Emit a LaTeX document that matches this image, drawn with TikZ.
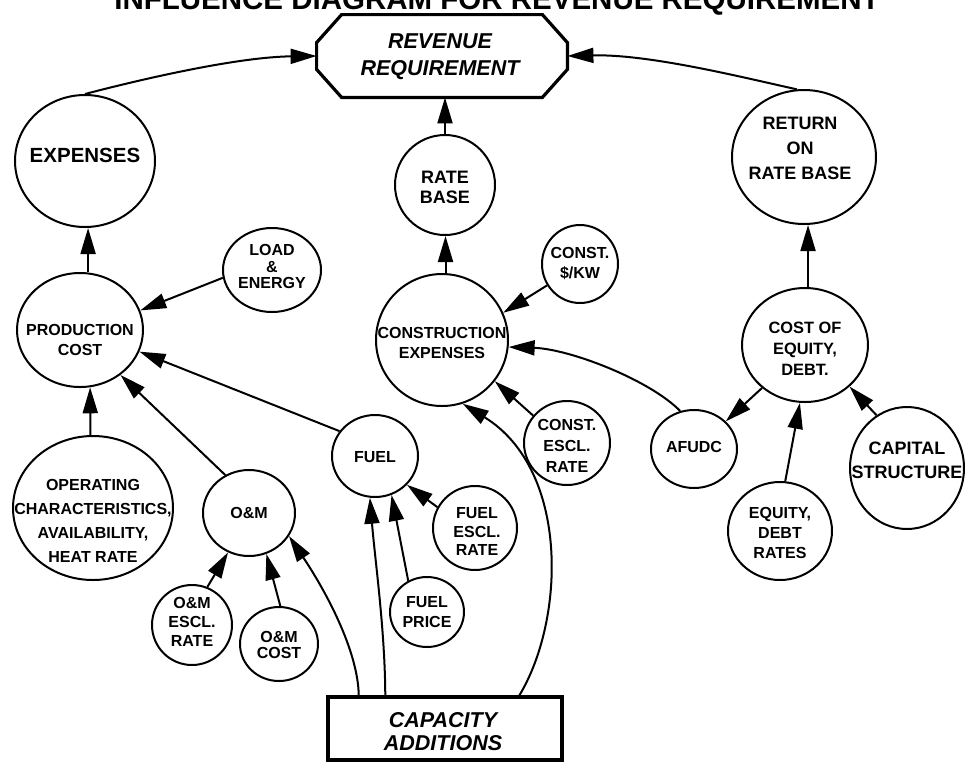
\documentclass[tikz,border=0pt]{standalone}
\usepackage{fontspec}
\setmainfont{Liberation Sans}
\usetikzlibrary{arrows.meta,shapes.geometric}
\begin{document}
\begin{tikzpicture}[x=0.5pt,y=-0.5pt,
  bub/.style 2 args={ellipse,draw,line width=1pt,inner sep=0pt,minimum width=#1pt,minimum height=#2pt},
  fsz/.style 2 args={font=\bfseries\fontsize{#1}{#2}\selectfont},
  txt/.style={align=center,inner sep=0pt,fsz={8}{10}},
  itxt/.style={align=center,inner sep=0pt,font=\bfseries\itshape\fontsize{10.75}{#1}\selectfont},
  arr/.style={line width=1pt,-{Triangle[length=13pt,width=7.5pt]}},
  heavy/.style={line width=1.6pt},
]
\useasboundingbox (0,0) rectangle (965,762);
\fill[white] (0,0) rectangle (965,762);
\clip (0,0) rectangle (965,762);

% title (cut off at the top)
\node[anchor=base,inner sep=0pt,fsz={14.75}{16}] (title) at (497,9) {INFLUENCE DIAGRAM FOR REVENUE REQUIREMENT};

% top octagon
\node[minimum width=125pt,minimum height=41pt,inner sep=0pt] (rev) at (442,56) {};
\draw[heavy] ([xshift=12.5pt]rev.north west) -- ([xshift=-12.5pt]rev.north east)
  -- ([yshift=-14pt]rev.north east) -- ([yshift=14pt]rev.south east)
  -- ([xshift=-12.5pt]rev.south east) -- ([xshift=12.5pt]rev.south west)
  -- ([yshift=14pt]rev.south west) -- ([yshift=-14pt]rev.north west) -- cycle;
\node[itxt=13.5] (revT) at (440,56.5) {REVENUE\\REQUIREMENT};

% bottom box
\node[draw,heavy,minimum width=117pt,minimum height=31.5pt,inner sep=0pt] (cap) at (445,728.5) {};
\node[itxt=11.5] (capT) at (443,731.5) {CAPACITY\\ADDITIONS};

% circles
\node[bub={70}{66}] (exp) at (85,161) {};
\node[txt,fsz={10.25}{12}] (expT) at (85,155) {EXPENSES};
\node[bub={49}{42}] (load) at (272,270) {};
\node[txt,fsz={8}{8.25}] (loadT) at (272,266.5) {LOAD\\\&\\ENERGY};
\node[bub={63}{57}] (prod) at (80,330) {};
\node[txt] (prodT) at (80,340) {PRODUCTION\\COST};
\node[bub={80}{72}] (oper) at (93,508) {};
\node[txt,fsz={8}{11.9}] (operT) at (93,521) {OPERATING\\CHARACTERISTICS,\\AVAILABILITY,\\HEAT RATE};
\node[bub={46}{43}] (om) at (249,513) {};
\node[txt] (omT) at (249,513) {O\&M};
\node[bub={40}{40}] (omesc) at (192,625) {};
\node[txt,fsz={8}{9.5}] (omescT) at (192,622) {O\&M\\ESCL.\\RATE};
\node[bub={39}{37}] (omcost) at (279,644) {};
\node[txt,fsz={8}{8.2}] (omcostT) at (279,645) {O\&M\\COST};
\node[bub={43}{41}] (fuel) at (375,456) {};
\node[txt] (fuelT) at (375,457) {FUEL};
\node[bub={42}{42}] (fuelesc) at (475,528) {};
\node[txt,fsz={8}{9.25}] (fuelescT) at (477,531.5) {FUEL\\ESCL.\\RATE};
\node[bub={37}{35}] (fuelprice) at (427,612) {};
\node[txt] (fuelpriceT) at (427,612) {FUEL\\PRICE};
\node[bub={50}{50}] (rate) at (445,185) {};
\node[txt,fsz={9}{10}] (rateT) at (445,187) {RATE\\BASE};
\node[bub={66}{66}] (constr) at (442,340) {};
\node[txt] (constrT) at (442,343) {CONSTRUCTION\\EXPENSES};
\node[bub={38}{39}] (constkw) at (580,264) {};
\node[txt] (constkwT) at (580,263) {CONST.\\\$/KW};
\node[bub={43}{42}] (constesc) at (567,443) {};
\node[txt,fsz={8}{10.5}] (constescT) at (567,446) {CONST.\\ESCL.\\RATE};
\node[bub={43}{39}] (afudc) at (694,449) {};
\node[txt] (afudcT) at (694,447) {AFUDC};
\node[bub={72}{67}] (ret) at (804,157) {};
\node[txt,fsz={9}{12.5}] (retT) at (800,148) {RETURN\\ON\\RATE BASE};
\node[bub={63}{57}] (costeq) at (805,345) {};
\node[txt,fsz={8.2}{10.5}] (costeqT) at (805,349) {COST OF\\EQUITY,\\DEBT.};
\node[bub={52}{49}] (eqrates) at (780,531) {};
\node[txt] (eqratesT) at (780,533) {EQUITY,\\DEBT\\RATES};
\node[bub={57}{61}] (capstr) at (907,468) {};
\node[txt,fsz={9}{12}] (capstrT) at (907,460) {CAPITAL\\STRUCTURE};

% connectors
\draw[arr] (exp.north) .. controls (150,77) and (240,57) .. (rev.west);
\draw[arr] (ret.96) .. controls (745,78) and (650,54) .. (rev.east);
\draw[arr] (rate.north) -- (rate.north |- rev.south);
\draw[arr] (prod.82) -- (prod.82 |- exp.south);
\draw[arr] (load.189) -- (prod.18);
\draw[arr] (fuel.145) -- (prod.-20);
\draw[arr] (om.122) -- (prod.-48);
\draw[arr] (oper.92) -- (prod.-80);
\draw[arr] (omesc.68) -- (om.-118);
\draw[arr] (omcost.88) -- (om.-67);
\draw[arr] (fuelesc.151) -- (fuel.-42);
\draw[arr] (fuelprice.121) -- (fuel.-67);
\draw[arr] (cap.151) .. controls (385,630) and (375,560) .. (fuel.-97);
\draw[arr] (cap.159) .. controls (358,650) and (325,590) .. (om.-30);
\draw[arr] (cap.24) .. controls (565,620) and (570,470) .. (constr.-72);
\draw[arr] (constr.87) -- (constr.87 |- rate.south);
\draw[arr] (constkw.213) -- (constr.24);
\draw[arr] (constesc.141) -- (constr.-38);
\draw[arr] (afudc.110) .. controls (650,380) and (570,349) .. (constr.-6);
\draw[arr] (costeq.87) -- (costeq.87 |- ret.south);
\draw[arr] (costeq.225) -- (afudc.41);
\draw[arr] (eqrates.84) -- (costeq.-95);
\draw[arr] (capstr.120) -- (costeq.-43);
\end{tikzpicture}
\end{document}
